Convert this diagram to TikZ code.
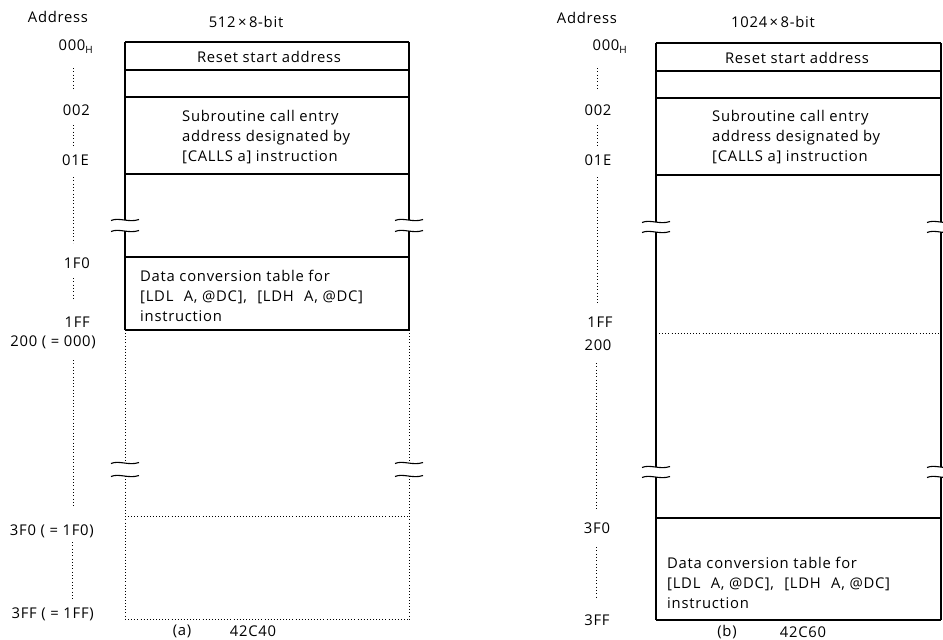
\documentclass[tikz,border=0pt]{standalone}
\usepackage{fontspec}
\setmainfont{Open Sans}[LetterSpace=5]
\newcommand{\gapx}{\hspace{0.7em}}
\begin{document}
\begin{tikzpicture}[x=1pt,y=-1pt,
  sline/.style={line width=1.1pt},
  dline/.style={line width=1pt, dash pattern=on 1pt off 2.1pt},
  aline/.style={line width=0.9pt, dash pattern=on 0.9pt off 2.4pt},
  lbl/.style={font=\fontsize{14.8}{19.6}\selectfont, inner sep=0pt},
  blk/.style={lbl, align=left, anchor=west},
  adr/.style={lbl, anchor=east},
  brk/.pic={\draw[sline] (-14,0.5) .. controls (-6,-3) and (4,3) .. (14,-0.5);}
]
\useasboundingbox (0,0) rectangle (943,640);

% ================= (a) =================
\node[lbl] (aAddr) at (58,17) {Address};
\node[lbl] (aSize) at (246,22) {512\,×\,8-bit};

% solid part
\draw[sline] (125,42) -- (409,42);
\draw[sline] (125,70) -- (409,70);
\draw[sline] (125,97) -- (409,97);
\draw[sline] (125,174) -- (409,174);
\draw[sline] (125,257) -- (409,257);
\draw[sline] (125,330) -- (409,330);
\draw[sline] (125,42) -- (125,220) (125,231) -- (125,330);
\draw[sline] (409,42) -- (409,220) (409,231) -- (409,330);
\pic at (125,220) {brk}; \pic at (125,231) {brk};
\pic at (409,220) {brk}; \pic at (409,231) {brk};
% dotted part
\draw[dline] (125,330) -- (125,463) (125,476) -- (125,619);
\draw[dline] (409,330) -- (409,463) (409,476) -- (409,619);
\draw[dline] (125,516) -- (409,516);
\draw[dline] (125,619) -- (409,619);
\pic at (125,463) {brk}; \pic at (125,476) {brk};
\pic at (409,463) {brk}; \pic at (409,476) {brk};

\node[lbl] (aReset) at (269,57) {Reset start address};
\node[blk] (aSub) at (182,137) {Subroutine call entry\\address designated by\\{[CALLS a]} instruction};
\node[blk] (aData) at (140,296) {Data conversion table for\\{[LDL\gapx A, @DC],\gapx [LDH\gapx A, @DC]}\\instruction};

% addresses
\node[adr] (a000) at (93,47) {000\raisebox{-0.35ex}{\fontsize{10}{10}\selectfont H}};
\node[adr] (a002) at (90,110) {002};
\node[adr] (a01E) at (89,160) {01E};
\node[adr] (a1F0) at (90,263) {1F0};
\node[adr] (a1FF) at (90,322) {1FF};
\node[adr] (a200) at (96,342) {200 ( = 000)};
\node[adr] (a3F0) at (94,531) {3F0 ( = 1F0)};
\node[adr] (a3FF) at (94,614) {3FF ( = 1FF)};
\draw[aline] (73,68) -- (73,90);
\draw[aline] (73,125) -- (73,147);
\draw[aline] (73,177) -- (73,243);
\draw[aline] (73,278) -- (73,300);
\draw[aline] (73,360) -- (73,508);
\draw[aline] (72,542) -- (72,600);

\node[lbl] (aCap) at (182,631) {(a)};
\node[lbl] (aNum) at (253,631) {42C40};

% ================= (b) =================
\node[lbl] (bAddr) at (587,18) {Address};
\node[lbl] (bSize) at (773,22) {1024\,×\,8-bit};

\draw[sline] (656,43) -- (941,43);
\draw[sline] (656,71) -- (941,71);
\draw[sline] (656,98) -- (941,98);
\draw[sline] (656,175) -- (941,175);
\draw[sline] (656,518) -- (941,518);
\draw[sline] (656,620) -- (941,620);
\draw[dline] (656,333) -- (941,333);
\draw[sline] (656,43) -- (656,222) (656,232) -- (656,467) (656,477) -- (656,620);
\draw[sline] (941,43) -- (941,222) (941,232) -- (941,467) (941,477) -- (941,620);
\pic at (656,222) {brk}; \pic at (656,232) {brk};
\pic at (941,222) {brk}; \pic at (941,232) {brk};
\pic at (656,467) {brk}; \pic at (656,477) {brk};
\pic at (941,467) {brk}; \pic at (941,477) {brk};

\node[lbl] (bReset) at (797,58) {Reset start address};
\node[blk] (bSub) at (712,137) {Subroutine call entry\\address designated by\\{[CALLS a]} instruction};
\node[blk] (bData) at (667,583) {Data conversion table for\\{[LDL\gapx A, @DC],\gapx [LDH\gapx A, @DC]}\\instruction};

\node[adr] (b000) at (627,47) {000\raisebox{-0.35ex}{\fontsize{10}{10}\selectfont H}};
\node[lbl] (b002) at (598,110) {002};
\node[lbl] (b01E) at (598,160) {01E};
\node[lbl] (b1FF) at (600,322) {1FF};
\node[lbl] (b200) at (598,345) {200};
\node[lbl] (b3F0) at (597,528) {3F0};
\node[lbl] (b3FF) at (597,620) {3FF};
\draw[aline] (597,68) -- (597,90);
\draw[aline] (597,125) -- (597,147);
\draw[aline] (597,177) -- (597,303);
\draw[aline] (596,363) -- (596,510);
\draw[aline] (596,547) -- (596,598);

\node[lbl] (bCap) at (727,632) {(b)};
\node[lbl] (bNum) at (803,632) {42C60};
\end{tikzpicture}
\end{document}
